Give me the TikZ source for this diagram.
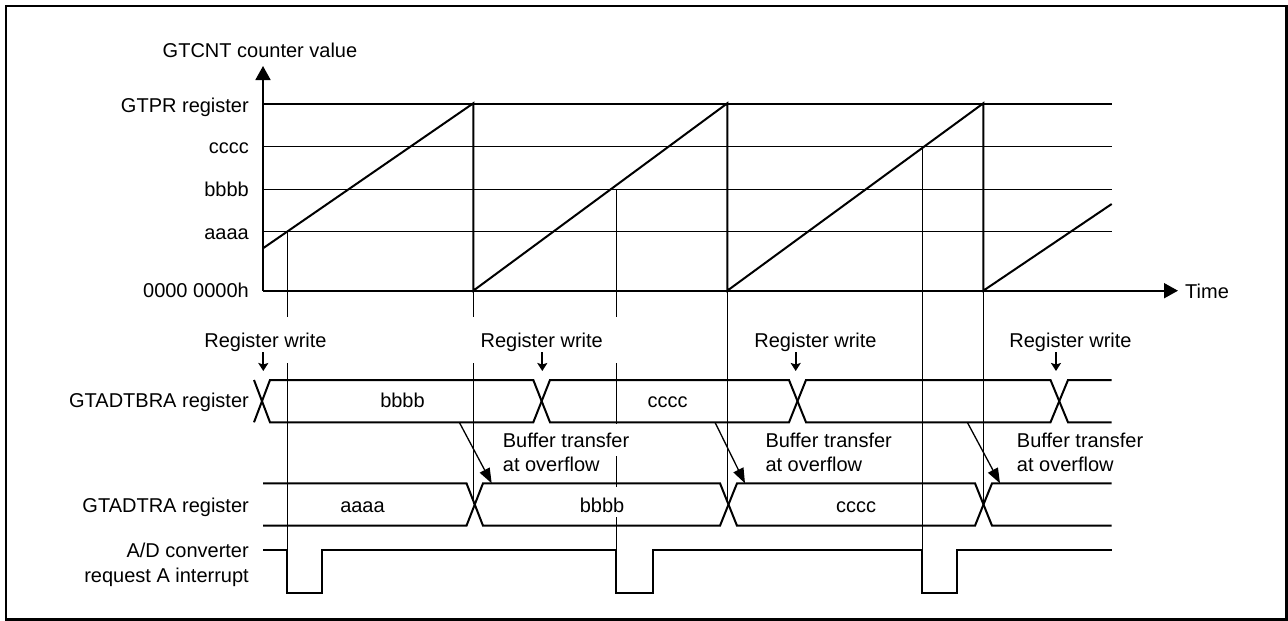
\documentclass[tikz,border=0pt]{standalone}
\usepackage{fontspec}
\setmainfont{Liberation Sans}
\usetikzlibrary{arrows.meta}
\begin{document}
\begin{tikzpicture}[x=1pt,y=-1pt,
  font=\fontsize{20}{24}\selectfont,
  frameline/.style={line width=2.5pt},
  gridline/.style={line width=1.1pt},
  axisline/.style={line width=1.8pt},
  wave/.style={line width=2pt, line join=miter},
  markline/.style={line width=1pt},
  txt/.style={inner sep=0pt, anchor=base},
  txtr/.style={inner sep=0pt, anchor=base east},
  txtl/.style={inner sep=0pt, anchor=base west},
  bigtip/.style={-{Triangle[length=14pt,width=15pt]}},
  buftip/.style={line width=1.3pt, -{Triangle[length=15pt,width=11pt]}},
  regtip/.style={line width=2pt, -{Stealth[length=8pt,width=10pt,inset=1.5pt]}}
]
\useasboundingbox (0,0) rectangle (1288,621);
\draw[frameline] (6,6) rectangle (1286.5,619.5);

% ---------- counter graph ----------
\foreach \yy in {104,146.7,189.3,231.7}
  \draw[gridline] (263,\yy) -- (1111.7,\yy);

\coordinate (origin) at (263,290.7);
\coordinate (ytip) at (263,66);
\coordinate (xtip) at (1178,290.7);
\draw[axisline,bigtip] (origin) -- (ytip);
\draw[axisline,bigtip] (origin) -- (xtip);

\node[txt] (ytitle) at (260,57.3) {GTCNT counter value};
\node[txtl] (timelbl) at (1185,298.3) {Time};

\node[txtr] (lgtpr) at (249,112.5) {GTPR register};
\node[txtr] (lc) at (249,153.5) {cccc};
\node[txtr] (lb) at (249,196.7) {bbbb};
\node[txtr] (la) at (249,239.3) {aaaa};
\node[txtr] (lz) at (249,297) {0000 0000h};

% marker lines
\draw[markline] (287.3,231.7) -- (287.3,317) (287.3,363) -- (287.3,550);
\draw[markline] (473.3,290.7) -- (473.3,317) (473.3,363) -- (473.3,504);
\draw[markline] (616,189.3) -- (616,317) (616,363) -- (616,550);
\draw[markline] (727.3,290.7) -- (727.3,504);
\draw[markline] (922.3,146.7) -- (922.3,550);
\draw[markline] (983.3,290.7) -- (983.3,504);

% saw-tooth
\draw[wave] (263,248.3) -- (473.3,103.3) -- (473.3,290.7) -- (727.3,103.3)
  -- (727.3,290.7) -- (983.3,103.3) -- (983.3,290.7) -- (1111.7,204);

% ---------- GTADTBRA ----------
\node[txtr] (lbra) at (249,407.3) {GTADTBRA register};
\draw[wave] (254,422.3) -- (270,380) -- (533.3,380) -- (550,422.3) -- (789,422.3)
  -- (806,380) -- (1050.5,380) -- (1068,422.3) -- (1111.7,422.3);
\draw[wave] (254,380) -- (270,422.3) -- (533.3,422.3) -- (550,380) -- (789,380)
  -- (806,422.3) -- (1050.5,422.3) -- (1068,380) -- (1111.7,380);
\node[txt] (brab) at (402.5,407.3) {bbbb};
\node[txt] (brac) at (667.5,407.3) {cccc};

% register write labels
\node[txt] (rw1) at (265.5,347) {Register write};
\node[txt] (rw2) at (541.7,347) {Register write};
\node[txt] (rw3) at (815.5,347) {Register write};
\node[txt] (rw4) at (1070.5,347) {Register write};
\foreach \xx/\nn in {263.3/1,542.3/2,795.7/3,1056/4}{
  \coordinate (rws\nn) at (\xx,352);
  \coordinate (rwe\nn) at (\xx,371);
  \draw[regtip] (rws\nn) -- (rwe\nn);
}

% ---------- GTADTRA ----------
\node[txtr] (lra) at (249,512.7) {GTADTRA register};
\draw[wave] (263,483.3) -- (466.5,483.3) -- (483,525.7) -- (720,525.7) -- (737,483.3)
  -- (975,483.3) -- (992,525.7) -- (1111.7,525.7);
\draw[wave] (263,525.7) -- (466.5,525.7) -- (483,483.3) -- (720,483.3) -- (737,525.7)
  -- (975,525.7) -- (992,483.3) -- (1111.7,483.3);
\node[txt] (raa) at (362.5,512.7) {aaaa};
\node[txt,fill=white,text height=26pt,text depth=4pt,inner xsep=1pt] (rab) at (602,512.7) {bbbb};
\node[txt] (rac) at (856,512.7) {cccc};

% buffer transfer
\foreach \xa/\xb/\xt/\nn in {459.3/491.7/501.7/1, 715/745/764.3/2, 967.3/1000/1015.7/3}{
  \coordinate (bts\nn) at (\xa,422.3);
  \coordinate (bte\nn) at (\xb,483.3);
  \draw[buftip] (bts\nn) -- (bte\nn);
  \node[txtl,fill=white,text height=23pt,text depth=9pt,inner xsep=1pt] (btl\nn) at (\xt,447) {Buffer transfer};
  \node[txtl,fill=white,text height=15pt,text depth=8.5pt,inner xsep=1pt] (bto\nn) at (\xt,471) {at overflow};
}

% ---------- interrupt ----------
\node[txtr] (lad1) at (249,557.3) {A/D converter};
\node[txtr] (lad2) at (249,582.3) {request A interrupt};
\draw[wave] (263,550) -- (287.3,550) -- (287.3,593.3) -- (321.7,593.3) -- (321.7,550)
  -- (616,550) -- (616,593.3) -- (653.3,593.3) -- (653.3,550)
  -- (922.3,550) -- (922.3,593.3) -- (957.3,593.3) -- (957.3,550) -- (1111.7,550);
\end{tikzpicture}
\end{document}
